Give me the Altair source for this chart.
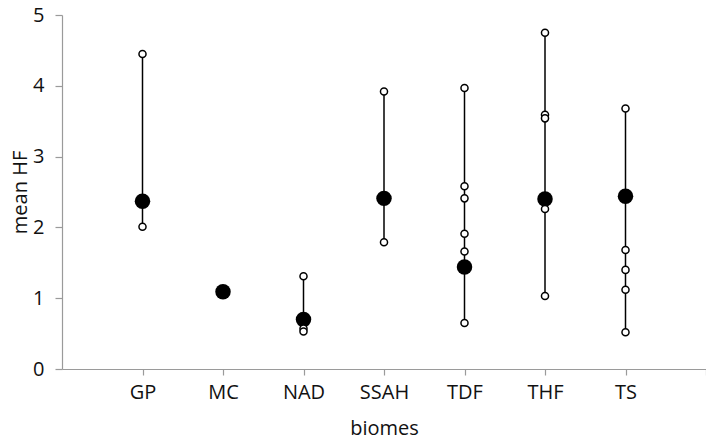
import altair as alt
import pandas as pd

biomes = ["GP", "MC", "NAD", "SSAH", "TDF", "THF", "TS"]
mean_hf = [2.37, 1.09, 0.70, 2.41, 1.44, 2.40, 2.44]
site_values = {
    "GP": [4.45, 2.01],
    "MC": [],
    "NAD": [1.31, 0.57, 0.53],
    "SSAH": [3.92, 1.79],
    "TDF": [3.97, 2.58, 2.41, 1.91, 1.66, 0.65],
    "THF": [4.75, 3.59, 3.54, 2.26, 1.03],
    "TS": [3.68, 1.68, 1.40, 1.12, 0.52],
}

pos = {b: i + 1 for i, b in enumerate(biomes)}
means_df = pd.DataFrame({"biome": biomes, "pos": [pos[b] for b in biomes], "value": mean_hf})
sites_df = pd.DataFrame(
    [{"biome": b, "pos": pos[b], "value": v} for b in biomes for v in site_values[b]]
)

label_list = "[''," + ",".join(f"'{b}'" for b in biomes) + ",'']"

x_enc = alt.X(
    "pos:Q",
    scale=alt.Scale(domain=[0, 8], nice=False, zero=False),
    axis=alt.Axis(
        title="biomes",
        values=list(range(1, 9)),
        labelExpr=f"{label_list}[datum.value]",
        grid=False,
        tickSize=6,
        labelPadding=7,
        titlePadding=16,
    ),
)
y_enc = alt.Y(
    "value:Q",
    scale=alt.Scale(domain=[0, 5], nice=False),
    axis=alt.Axis(
        title="mean HF",
        values=[0, 1, 2, 3, 4, 5],
        format="d",
        grid=False,
        tickSize=7,
        labelPadding=11,
        titlePadding=2,
    ),
)

rules = alt.Chart(sites_df).mark_rule(color="black", strokeWidth=1.5).encode(
    x=x_enc,
    y=alt.Y("min(value):Q"),
    y2=alt.Y2("max(value):Q"),
    detail="biome:N",
)

means = alt.Chart(means_df).mark_point(
    shape="circle", filled=True, color="black", size=240, opacity=1
).encode(x=x_enc, y=y_enc)

sites = alt.Chart(sites_df).mark_point(
    shape="circle", filled=True, fill="white", stroke="black", strokeWidth=1.5,
    size=50, opacity=1
).encode(x=x_enc, y=y_enc)

chart = (
    alt.layer(rules, means, sites)
    .properties(
        width=644,
        height=354,
        autosize=alt.AutoSizeParams(type="none"),
        padding={"left": 54, "top": 7, "right": 0, "bottom": 70},
    )
    .configure_view(stroke=None)
    .configure_axis(
        domainColor="#9a9a9a",
        tickColor="#9a9a9a",
        domainWidth=1.2,
        tickWidth=1.2,
        labelFont="Open Sans",
        titleFont="Open Sans",
        labelFontSize=20,
        titleFontSize=20,
        labelColor="#111111",
        titleColor="#111111",
        titleFontWeight="normal",
    )
)

chart.save("out.html", embed_options={"renderer": "svg", "actions": False})
